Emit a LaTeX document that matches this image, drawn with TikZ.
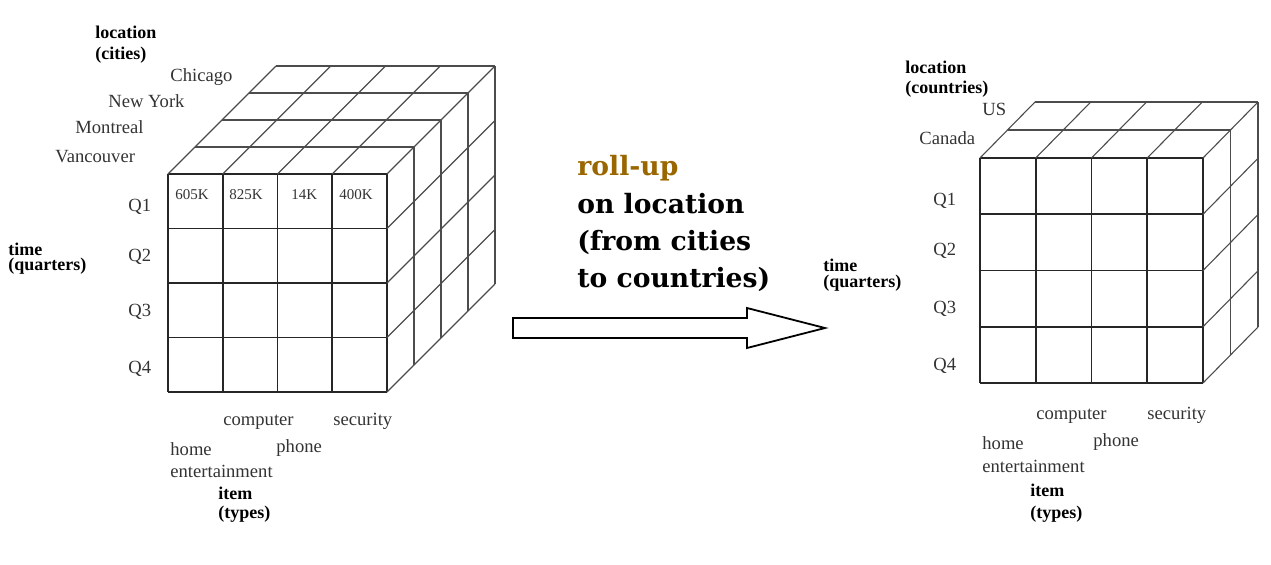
\documentclass[tikz,border=0pt]{standalone}
\usepackage{fontspec}
\setmainfont{Liberation Serif}
\newfontfamily\rollfont{DejaVu Serif}
\definecolor{rollup}{RGB}{153,102,0}

\begin{document}
\begin{tikzpicture}[x=0.5pt,y=-0.5pt,
  front/.style={draw=black!85,line width=0.8pt},
  back/.style={draw=black!70,line width=0.55pt},
  member/.style={anchor=base west,inner sep=0pt,text=black!80,font=\fontsize{9.3}{10}\selectfont},
  dimlbl/.style={anchor=base west,inner sep=0pt,font=\fontsize{9}{10}\selectfont\bfseries},
  bigtxt/.style={anchor=base west,inner sep=0pt,font=\rollfont\bfseries\fontsize{13.3}{16}\selectfont}]
  \useasboundingbox (0,0) rectangle (1271,564);
  % cube by cities
  \foreach \i in {0,...,4} \draw[front] (168+54.75*\i,174)--(168+54.75*\i,392);
  \foreach \j in {0,...,4} \draw[front] (168,174+54.5*\j)--(387,174+54.5*\j);
  \foreach \k in {1,...,4} {
    \draw[back] (168+27*\k,174-27*\k)--(387+27*\k,174-27*\k);
    \draw[back] (387+27*\k,174-27*\k)--(387+27*\k,392-27*\k);
  }
  \foreach \i in {0,...,4} \draw[back] (168+54.75*\i,174)--++(108,-108);
  \foreach \j in {1,...,4} \draw[back] (387,174+54.5*\j)--++(108,-108);
  \node[dimlbl] (loca) at (95,38) {location};
  \node[dimlbl] (locb) at (95,59) {(cities)};
  \node[member] (chi) at (170,81) {Chicago};
  \node[member] (ny) at (108,107) {New York};
  \node[member] (mtl) at (75,133) {Montreal};
  \node[member] (van) at (55,162) {Vancouver};
  \node[member] (qa) at (128,211) {Q1};
  \node[member] (qb) at (128,261) {Q2};
  \node[member] (qc) at (128,316) {Q3};
  \node[member] (qd) at (128,373) {Q4};
  \node[dimlbl] (tima) at (8,255) {time};
  \node[dimlbl] (timb) at (8,270) {(quarters)};
  \node[member,font=\fontsize{7.5}{9}\selectfont] (va) at (175,199) {605K};
  \node[member,font=\fontsize{7.5}{9}\selectfont] (vb) at (229,199) {825K};
  \node[member,font=\fontsize{7.5}{9}\selectfont] (vc) at (291,199) {14K};
  \node[member,font=\fontsize{7.5}{9}\selectfont] (vd) at (339,199) {400K};
  \node[member] (comp) at (223,425) {computer};
  \node[member] (sec) at (333,425) {security};
  \node[member] (home) at (170,455) {home};
  \node[member] (phone) at (276,452) {phone};
  \node[member] (ent) at (170,477) {entertainment};
  \node[dimlbl] (itema) at (218,499) {item};
  \node[dimlbl] (itemb) at (218,518) {(types)};
  % roll-up arrow
  \draw[line width=0.9pt] (513,318)--(747,318)--(747,308)--(825,328)--(747,348)--(747,338)--(513,338)--cycle;
  \node[bigtxt,text=rollup] (ru) at (577,175) {roll-up};
  \node[bigtxt] (rua) at (577,213) {on location};
  \node[bigtxt] (rub) at (577,250) {(from cities};
  \node[bigtxt] (ruc) at (577,287) {to countries)};
  % cube by countries
  \foreach \i in {0,...,4} \draw[front] (980+55.75*\i,158)--(980+55.75*\i,383);
  \foreach \j in {0,...,4} \draw[front] (980,158+56.25*\j)--(1203,158+56.25*\j);
  \foreach \k in {1,2} {
    \draw[back] (980+27.5*\k,158-28*\k)--(1203+27.5*\k,158-28*\k);
    \draw[back] (1203+27.5*\k,158-28*\k)--(1203+27.5*\k,383-28*\k);
  }
  \foreach \i in {0,...,4} \draw[back] (980+55.75*\i,158)--++(55,-56);
  \foreach \j in {1,...,4} \draw[back] (1203,158+56.25*\j)--++(55,-56);
  \node[dimlbl] (rloca) at (905,73) {location};
  \node[dimlbl] (rlocb) at (905,93) {(countries)};
  \node[member] (us) at (982,115) {US};
  \node[member] (can) at (919,144) {Canada};
  \node[member] (rqa) at (933,205) {Q1};
  \node[member] (rqb) at (933,255) {Q2};
  \node[member] (rqc) at (933,313) {Q3};
  \node[member] (rqd) at (933,370) {Q4};
  \node[dimlbl] (rtima) at (823,271) {time};
  \node[dimlbl] (rtimb) at (823,287) {(quarters)};
  \node[member] (rcomp) at (1036,419) {computer};
  \node[member] (rsec) at (1147,419) {security};
  \node[member] (rhome) at (982,449) {home};
  \node[member] (rphone) at (1093,446) {phone};
  \node[member] (rent) at (982,472) {entertainment};
  \node[dimlbl] (ritema) at (1030,496) {item};
  \node[dimlbl] (ritemb) at (1030,518) {(types)};
\end{tikzpicture}
\end{document}
